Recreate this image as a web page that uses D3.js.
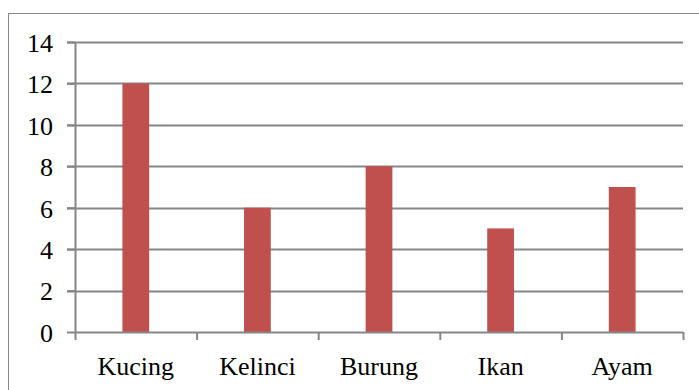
<!DOCTYPE html>
<html>
<head>
<meta charset="utf-8">
<style>
  body { margin: 0; background: #fff; }
</style>
</head>
<body>
<div id="chart"></div>
<script src="https://d3js.org/d3.v7.min.js"></script>
<script>
  var categories = ["Kucing", "Kelinci", "Burung", "Ikan", "Ayam"];
  var values = [12, 6, 8, 5, 7];
  var yTicks = [0, 2, 4, 6, 8, 10, 12, 14];

  var FONT = "'Liberation Serif', serif";
  var W = 699, H = 390;
  var margin = { top: 42, right: 16, bottom: 58, left: 75 },
    width = W - margin.left - margin.right,
    height = H - margin.top - margin.bottom;

  var svg = d3.select("#chart").append("svg")
    .attr("width", W)
    .attr("height", H);

  // outer frame (cut off at right and bottom)
  svg.append("rect")
    .attr("x", 8.5).attr("y", 13.5)
    .attr("width", W).attr("height", H)
    .style("fill", "none")
    .style("stroke", "#868686")
    .style("stroke-width", 1);

  var g = svg.append("g")
    .attr("transform", "translate(" + margin.left + "," + margin.top + ")");

  var x = d3.scaleBand().domain(categories).range([0, width]);
  var y = d3.scaleLinear().domain([0, 14]).range([height, 0]);

  // gridlines
  g.selectAll(".grid").data(yTicks.slice(1)).enter().append("line")
    .attr("x1", -8).attr("x2", width)
    .attr("y1", function(d) { return Math.round(y(d)) + 0.5; })
    .attr("y2", function(d) { return Math.round(y(d)) + 0.5; })
    .style("stroke", "#868686")
    .style("stroke-width", 2);

  // y axis
  var yAxis = g.append("g")
    .attr("font-family", FONT)
    .call(d3.axisLeft(y).tickValues(yTicks).tickSize(8).tickPadding(14));
  yAxis.attr("font-family", FONT).attr("font-size", 26);
  yAxis.select(".domain").remove();
  yAxis.selectAll("line").style("stroke", "#868686").style("stroke-width", 2);
  yAxis.selectAll("text")
    .attr("font-family", FONT)
    .style("font-family", FONT)
    .style("font-size", "26px")
    .style("fill", "#000")
    .attr("dy", "0.36em");
  g.append("line")
    .attr("x1", 0.5).attr("x2", 0.5)
    .attr("y1", 0).attr("y2", height)
    .style("stroke", "#868686").style("stroke-width", 2);

  // bars
  var bw = x.bandwidth() * 0.22;
  g.selectAll(".bar").data(values).enter().append("rect")
    .attr("class", "bar")
    .attr("x", function(d, i) { return x(categories[i]) + x.bandwidth() / 2 - bw / 2; })
    .attr("y", function(d) { return y(d); })
    .attr("width", bw)
    .attr("height", function(d) { return height - y(d); })
    .style("fill", "#c0504d");

  // x axis
  g.append("line")
    .attr("x1", 0).attr("x2", width)
    .attr("y1", height + 0.5).attr("y2", height + 0.5)
    .style("stroke", "#868686").style("stroke-width", 2);
  var bounds = categories.map(function(c) { return x(c); }).concat([width]);
  g.selectAll(".xtick").data(bounds).enter().append("line")
    .attr("x1", function(d) { return d + 0.5; })
    .attr("x2", function(d) { return d + 0.5; })
    .attr("y1", height).attr("y2", height + 8)
    .style("stroke", "#868686").style("stroke-width", 2);
  g.selectAll(".xlabel").data(categories).enter().append("text")
    .attr("x", function(d) { return x(d) + x.bandwidth() / 2; })
    .attr("y", height + 43)
    .attr("text-anchor", "middle")
    .attr("font-family", FONT)
    .style("font-family", FONT)
    .style("font-size", "26px")
    .style("fill", "#000")
    .text(function(d) { return d; });
</script>
</body>
</html>
